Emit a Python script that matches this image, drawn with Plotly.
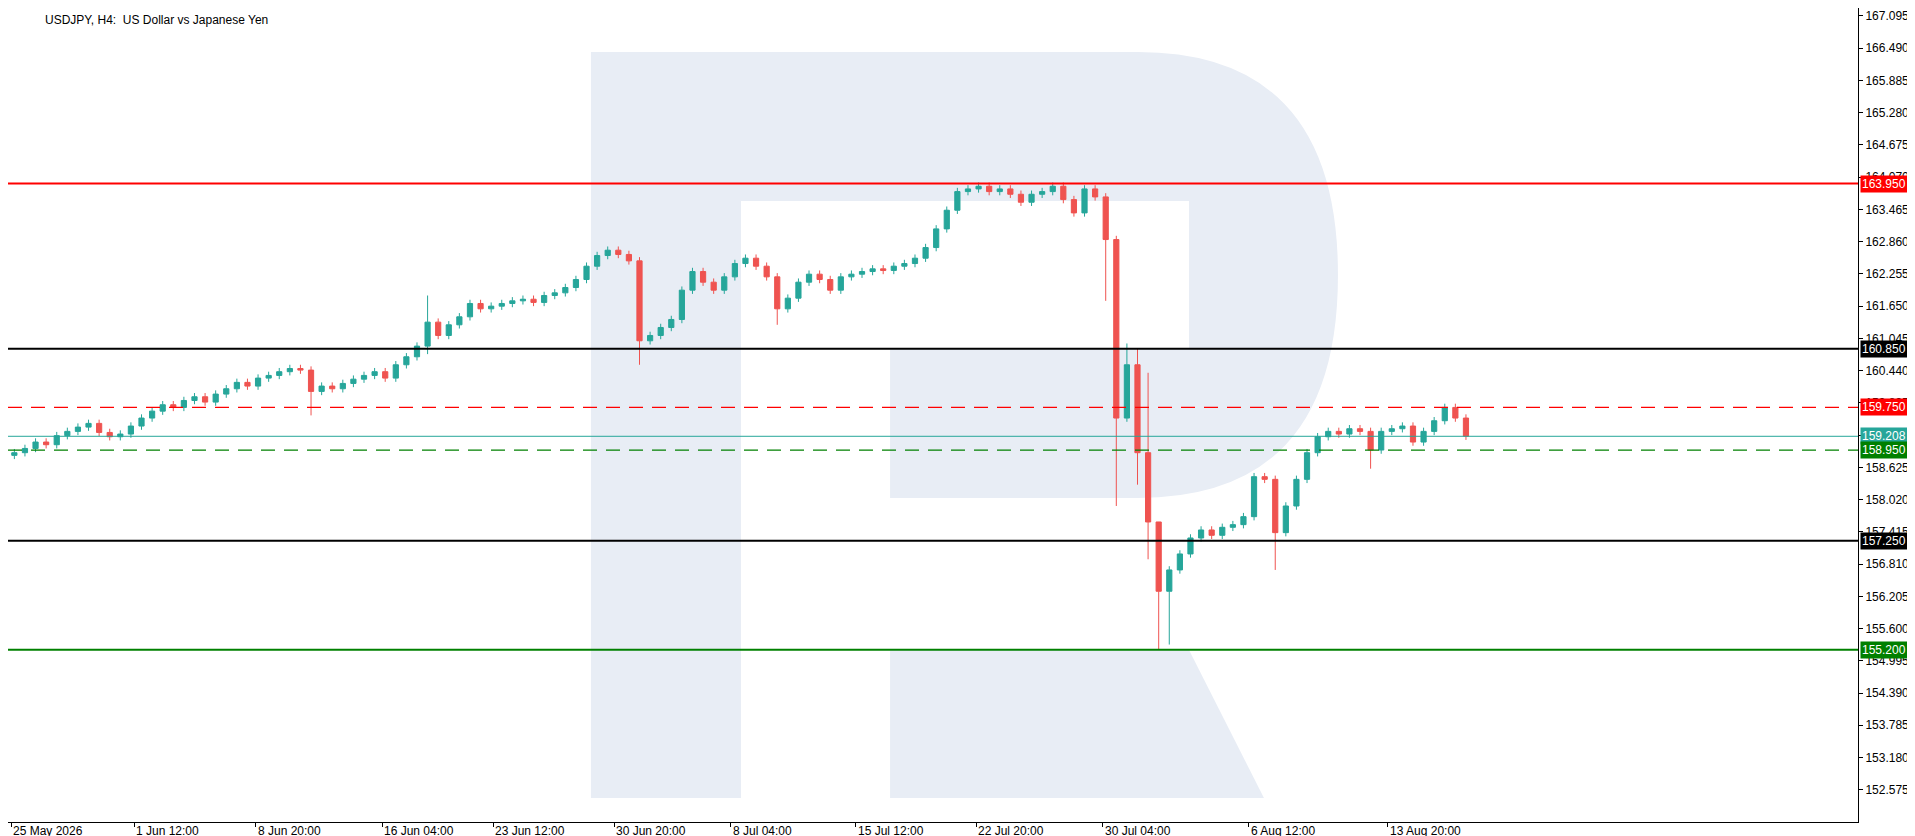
import plotly.graph_objects as go

# H4 candles (coarse), closes
closes = [
    158.90, 158.98, 159.10, 159.05, 159.22, 159.30, 159.38, 159.45, 159.28, 159.20,
    159.25, 159.40, 159.55, 159.68, 159.80, 159.75, 159.88, 159.95, 159.85, 160.00,
    160.10, 160.22, 160.15, 160.30, 160.35, 160.42, 160.48, 160.45, 160.05, 160.15,
    160.10, 160.20, 160.28, 160.35, 160.42, 160.30, 160.55, 160.70, 160.90,
    161.35, 161.10, 161.30, 161.45, 161.70, 161.60, 161.65, 161.70, 161.75, 161.78,
    161.72, 161.85, 161.90, 162.00, 162.15, 162.40, 162.60, 162.70, 162.62, 162.50,
    161.00, 161.10, 161.25, 161.40, 161.95, 162.30, 162.10, 161.95, 162.20, 162.45,
    162.55, 162.40, 162.20, 161.60, 161.80, 162.10, 162.25, 162.15, 161.95, 162.20,
    162.25, 162.30, 162.35, 162.32, 162.40, 162.45, 162.55, 162.75, 163.10, 163.45,
    163.80, 163.85, 163.90, 163.80, 163.85, 163.75, 163.60, 163.75, 163.80, 163.90,
    163.65, 163.40, 163.85, 163.70,
    162.90, 159.55, 160.55, 158.90, 157.60, 156.30,
    156.70, 157.00, 157.30, 157.45, 157.35, 157.50, 157.55, 157.70, 158.45, 158.40,
    157.40, 157.90, 158.40, 158.90, 159.20, 159.30, 159.25, 159.35, 159.30, 158.95,
    159.30, 159.35, 159.40, 159.10, 159.30, 159.50, 159.75, 159.55, 159.21,
]
first_open = 158.85
wick = 0.07
# notable wicks: index -> (high, low)
wick_overrides = {
    28: (None, 159.60), 39: (161.85, 160.75), 59: (None, 160.55), 72: (None, 161.30),
    103: (None, 161.75), 104: (None, 157.90), 105: (160.95, None), 106: (160.85, 158.30),
    107: (160.40, 156.90), 108: (157.50, 155.20), 109: (None, 155.30),
    119: (None, 156.70), 128: (None, 158.60),
}

levels = [163.950, 160.850, 159.750, 159.208, 158.950, 157.250, 155.200]
level_colors = ["#ff0000", "#000000", "#ff0000", "#26a69a", "#008000", "#000000", "#008000"]
level_dash = ["solid", "solid", "dash", "solid", "dash", "solid", "solid"]
level_width = [2, 2, 1.3, 1, 1.3, 2, 2]

price_ticks = [152.575 + 0.605 * k for k in range(25)]
date_labels = ["25 May 2026", "1 Jun 12:00", "8 Jun 20:00", "16 Jun 04:00", "23 Jun 12:00",
               "30 Jun 20:00", "8 Jul 04:00", "15 Jul 12:00", "22 Jul 20:00", "30 Jul 04:00",
               "6 Aug 12:00", "13 Aug 20:00"]
date_pos = [-0.3, 11.3, 22.8, 34.7, 45.2, 56.6, 67.6, 79.4, 90.8, 102.7, 116.5, 129.6]

opens = [first_open] + closes[:-1]
highs, lows = [], []
for i, (o, c) in enumerate(zip(opens, closes)):
    h, l = max(o, c) + wick, min(o, c) - wick
    if i in wick_overrides:
        oh, ol = wick_overrides[i]
        h = oh if oh is not None else h
        l = ol if ol is not None else l
    highs.append(h)
    lows.append(l)

W, H = 1850, 814  # plot area in pixels
FONT = "Liberation Sans"


def p(x, y):
    return f"{x / W:.4f},{1 - y / H:.4f}"


wm = "#e8edf5"
shapes = [
    dict(type="path", path=f"M {p(583,44)} L {p(733,44)} L {p(733,790)} L {p(583,790)} Z"),
    # top bar + bowl with counter
    dict(type="path", path=(f"M {p(733,44)} L {p(1130,44)} Q {p(1330,44)} {p(1330,267)} "
                            f"Q {p(1330,490)} {p(1130,490)} L {p(882,490)} L {p(882,341)} "
                            f"L {p(1181,341)} L {p(1181,193)} L {p(733,193)} Z")),
    dict(type="path", path=f"M {p(882,642)} L {p(1181,642)} L {p(1256,790)} L {p(882,790)} Z"),
]
for s in shapes:
    s.update(xref="paper", yref="paper", fillcolor=wm, line=dict(width=0), layer="below")

fig = go.Figure()
fig.add_trace(go.Candlestick(
    x=list(range(len(closes))), open=opens, high=highs, low=lows, close=closes,
    increasing=dict(line=dict(color="#26a69a", width=1), fillcolor="#26a69a"),
    decreasing=dict(line=dict(color="#ef5350", width=1), fillcolor="#ef5350"),
    whiskerwidth=0, showlegend=False, hoverinfo="skip",
))

annotations = []
for lv, col, dsh, w in zip(levels, level_colors, level_dash, level_width):
    shapes.append(dict(type="line", xref="paper", yref="y", x0=0, x1=1, y0=lv, y1=lv,
                       line=dict(color=col, width=w, dash=dsh if dsh == "solid" else "14px,9px")))
    annotations.append(dict(xref="paper", yref="y", x=1.0, y=lv, xanchor="left", yanchor="middle",
                            xshift=2, text=f"{lv:.3f}", showarrow=False, bgcolor=col, borderpad=1,
                            font=dict(color="white", size=12, family=FONT)))
for lab, pos in zip(date_labels, date_pos):
    annotations.append(dict(xref="x", yref="paper", x=pos, y=0, yshift=0, xanchor="left",
                            yanchor="top", text=lab, showarrow=False,
                            font=dict(size=12, family=FONT, color="#000")))
annotations.append(dict(xref="paper", yref="paper", x=0.019, y=1, yshift=-3, xanchor="left",
                        yanchor="top", text="USDJPY, H4:  US Dollar vs Japanese Yen",
                        showarrow=False, font=dict(size=12, family=FONT, color="#000")))

fig.update_layout(
    width=1915, height=836, margin=dict(l=0, r=65, t=0, b=22),
    paper_bgcolor="white", plot_bgcolor="white",
    shapes=shapes, annotations=annotations,
    xaxis=dict(range=[-0.6, 174], showgrid=False, zeroline=False, showticklabels=False,
               rangeslider=dict(visible=False), showline=True, mirror=True, linecolor="black",
               tickvals=date_pos, ticks="outside", ticklen=4, tickcolor="black"),
    yaxis=dict(range=[151.97, 167.245], side="right", showgrid=False, zeroline=False,
               tickvals=price_ticks, ticktext=[f"{t:.3f}" for t in price_ticks],
               ticks="outside", ticklen=4, tickcolor="black", showline=True, mirror=True,
               linecolor="black", tickfont=dict(size=12, family=FONT, color="#000")),
)
fig.write_html("out.html")
